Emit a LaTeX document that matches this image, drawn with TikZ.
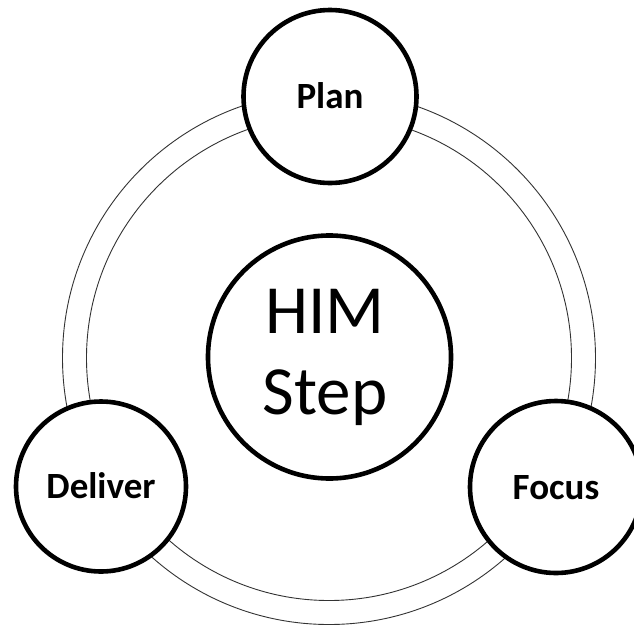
\documentclass[tikz,border=0pt]{standalone}
\usepackage{fontspec}
\setmainfont{Carlito}
\begin{document}
\begin{tikzpicture}[x=1pt,y=-1pt,
  ringline/.style={circle,draw=black!80,line width=0.9pt,inner sep=0pt},
  stepcircle/.style={circle,draw=black,fill=white,line width=4.6pt,inner sep=0pt,
    font=\fontsize{37}{44}\selectfont\bfseries,text height=24pt,text depth=0pt},
  bigtext/.style={font=\fontsize{69}{81}\selectfont,align=center,inner sep=0pt}
]
\useasboundingbox (0,0) rectangle (634,624);
\fill[white] (0,0) rectangle (634,624);
% ring
\node[ringline,minimum size=533pt] (outerring) at (329,358) {};
\node[ringline,minimum size=485pt] (innerring) at (329,358) {};
% satellite circles
\node[stepcircle,minimum size=173pt] (plan) at (330,96.5) {Plan};
\node[stepcircle,minimum size=170pt] (deliver) at (101,486.5) {Deliver};
\node[stepcircle,minimum size=172pt] (focus) at (556,487) {Focus};
% centre
\node[circle,draw=black,fill=white,line width=4.6pt,inner sep=0pt,minimum size=243pt] (him) at (329.5,357) {};
\node[bigtext] (himtext) at (325,357) {HIM\\Step};
\end{tikzpicture}
\end{document}
